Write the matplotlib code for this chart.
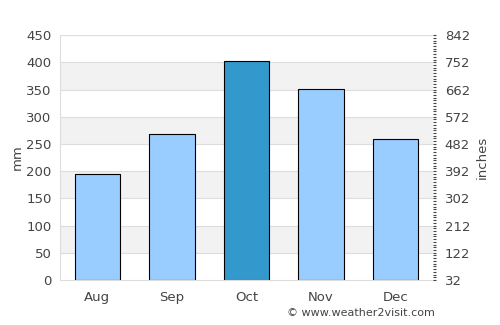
import numpy as np
import matplotlib
matplotlib.use('Agg')
import matplotlib.pyplot as plt
from matplotlib.ticker import AutoMinorLocator

months = ['Aug', 'Sep', 'Oct', 'Nov', 'Dec']
rain_mm = [194, 268, 403, 351, 259]
bar_colors = ['#99ccff', '#99ccff', '#3399cc', '#99ccff', '#99ccff']
left_ticks = [0, 50, 100, 150, 200, 250, 300, 350, 400, 450]
right_labels = ['32', '122', '212', '302', '392', '482', '572', '662', '752', '842']

txt = '#444444'
fig = plt.figure(figsize=(5, 3.25), dpi=100)
ax = fig.add_axes([0.12, 0.1385, 0.746, 0.7535])

# alternating grey bands
for lo in range(50, 450, 100):
    ax.axhspan(lo, lo + 50, color='#f2f2f2', zorder=0, lw=0)
for t in left_ticks[1:]:
    ax.axhline(t, color='#dddddd', lw=0.8, zorder=0.5)

x = np.arange(len(months))
ax.bar(x, rain_mm, width=0.61, color=bar_colors, edgecolor='black', lw=0.8, zorder=2)

ax.set_xlim(-0.5, 4.5)
ax.set_ylim(0, 450)
ax.set_yticks(left_ticks)
ax.set_xticks(x)
ax.set_xticklabels(months)
ax.tick_params(axis='both', length=0, colors=txt, labelsize=9.5, pad=6)
ax.tick_params(axis='x', pad=8)
ax.set_ylabel('mm', color=txt, fontsize=9.5, labelpad=2)
for s in ['top', 'right']:
    ax.spines[s].set_visible(False)
for s in ['left', 'bottom']:
    ax.spines[s].set_color('#dddddd')

ax2 = ax.twinx()
ax2.set_ylim(0, 450)
ax2.set_yticks(left_ticks)
ax2.set_yticklabels(right_labels)
ax2.yaxis.set_minor_locator(AutoMinorLocator(10))
ax2.tick_params(axis='y', which='major', length=2.5, width=0.8, colors=txt, labelsize=9.5, pad=6)
ax2.tick_params(axis='y', which='minor', length=2.5, width=0.8, color=txt)
ax2.set_ylabel('inches', color=txt, fontsize=9.5, labelpad=4)
for s in ['top', 'right', 'left', 'bottom']:
    ax2.spines[s].set_visible(False)

fig.text(0.87, 0.02, '\u00a9 www.weather2visit.com', ha='right', va='bottom', fontsize=8, color=txt)

fig.savefig('out.png', dpi=100)
